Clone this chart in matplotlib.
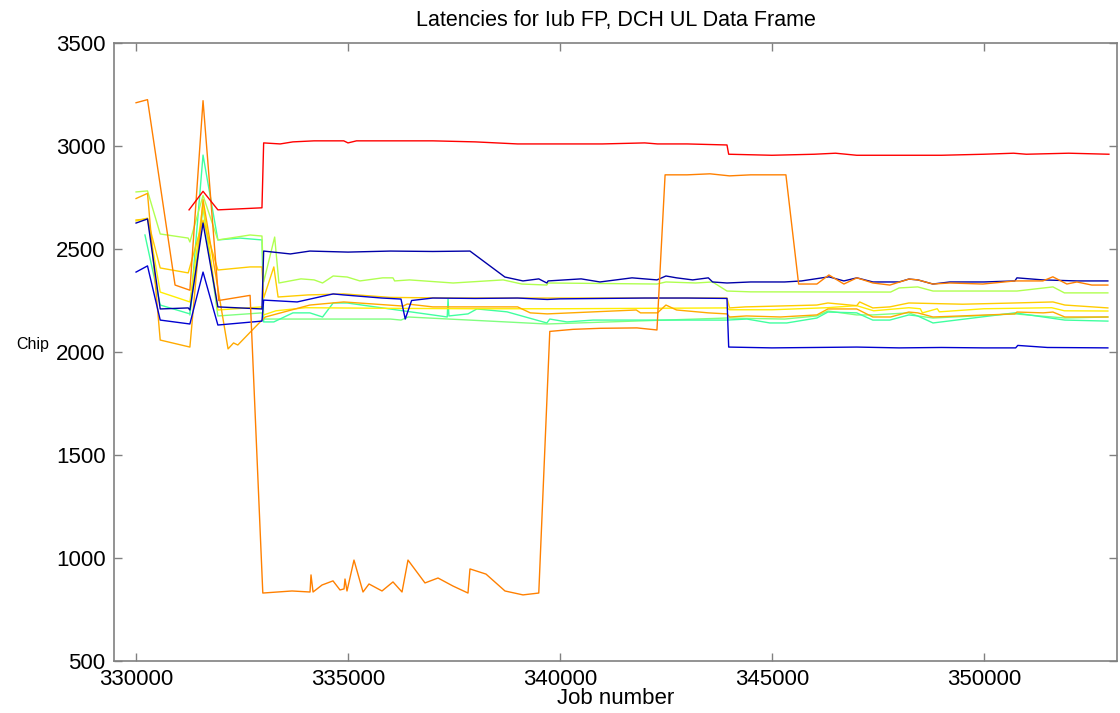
import matplotlib
matplotlib.use("Agg")
from matplotlib import pyplot as plt

#==============================================================#
# data (job number, chip) per series
#==============================================================#
red_job = [331250, 331580, 331930, 332970, 333010, 333400, 333700, 334200, 334900,
           335000, 335200, 336000, 337000, 338000, 339000, 340000, 341000, 342000,
           342300, 343000, 343940, 343980, 345000, 346000, 346500, 347000, 348000,
           349000, 350000, 350700, 351000, 352000, 352950]
red_chip = [2690, 2780, 2690, 2700, 3015, 3010, 3020, 3025, 3025,
            3015, 3025, 3025, 3025, 3020, 3010, 3010, 3010, 3015,
            3010, 3010, 3005, 2960, 2955, 2960, 2965, 2955, 2955,
            2955, 2960, 2965, 2960, 2965, 2960]

dorange_job = [330000, 330270, 330920, 331270, 331580, 331950, 332690, 332990, 333679,
               334104, 334127, 334175, 334387, 334646, 334811, 334906, 334929, 334976,
               335141, 335354, 335495, 335802, 336061, 336274, 336415, 336816, 337123,
               337476, 337830, 337877, 338255, 338703, 339127, 339500, 339760, 340307,
               340943, 341816, 342288, 342480, 343000, 343540, 344000, 344500, 345330,
               345630, 346061, 346344, 346698, 347005, 347382, 347783, 348231, 348443,
               348797, 349198, 349976, 350731, 351391, 351627, 351958, 352194, 352547,
               352925]
dorange_chip = [3210, 3225, 2325, 2300, 3220, 2250, 2275, 830, 840,
                835, 918, 835, 869, 889, 845, 850, 898, 840,
                990, 835, 874, 840, 884, 835, 990, 879, 903,
                864, 830, 947, 922, 840, 821, 830, 2100, 2110,
                2115, 2117, 2107, 2860, 2860, 2865, 2855, 2860, 2860,
                2330, 2330, 2374, 2330, 2360, 2335, 2325, 2354, 2350,
                2330, 2335, 2330, 2345, 2345, 2365, 2330, 2340, 2325,
                2325]

lorange_job = [330000, 330270, 330570, 331270, 331580, 332170, 332300, 332400, 332970,
               333050, 334100, 334900, 336300, 336400, 337000, 339000, 339300, 339700,
               341800, 341900, 342300, 342500, 342750, 343500, 343940, 344000, 344400,
               345200, 346060, 346320, 347000, 347380, 347800, 348230, 348440, 348800,
               350730, 350780, 351400, 351630, 351910, 352925]
lorange_chip = [2745, 2770, 2058, 2024, 2740, 2015, 2044, 2034, 2155,
                2170, 2228, 2243, 2223, 2233, 2219, 2219, 2190, 2185,
                2204, 2190, 2190, 2228, 2204, 2190, 2185, 2170, 2175,
                2170, 2180, 2209, 2209, 2170, 2170, 2194, 2190, 2170,
                2185, 2194, 2190, 2194, 2170, 2170]

gold_job = [330000, 330270, 330570, 331230, 331580, 331930, 332690, 332970, 333010,
            333250, 333350, 334050, 334900, 336000, 337500, 339000, 341000, 343940,
            344000, 344370, 346060, 346320, 347000, 347070, 347380, 347780, 348230,
            349500, 350730, 351630, 351910, 352925]
gold_chip = [2641, 2646, 2408, 2384, 2640, 2398, 2413, 2413, 2262,
             2413, 2267, 2277, 2282, 2265, 2262, 2262, 2262, 2262,
             2214, 2219, 2228, 2238, 2225, 2243, 2214, 2219, 2238,
             2232, 2238, 2243, 2228, 2214]

yellow_job = [330000, 330270, 330570, 331270, 331580, 331930, 332970, 333010, 333300,
              334000, 336000, 338000, 340000, 342000, 343940, 344000, 345000, 346300,
              347000, 347400, 348230, 348500, 348550, 348900, 348950, 350000, 351600,
              351900, 352925]
yellow_chip = [2636, 2650, 2291, 2243, 2720, 2204, 2219, 2180, 2200,
               2215, 2212, 2210, 2210, 2212, 2214, 2205, 2205, 2215,
               2225, 2200, 2215, 2210, 2190, 2210, 2195, 2210, 2215,
               2200, 2199]

ygreen_job = [330000, 330270, 330570, 331230, 331270, 331580, 331930, 332690, 332970,
              333010, 333270, 333370, 333890, 334200, 334400, 334650, 334980, 335280,
              335820, 336060, 336100, 336450, 337480, 338660, 339100, 339690, 339720,
              342288, 342500, 343200, 343600, 343940, 344500, 347800, 348000, 348440,
              348800, 350780, 351630, 351900, 352925]
ygreen_chip = [2777, 2782, 2573, 2553, 2534, 2760, 2544, 2568, 2563,
               2340, 2558, 2335, 2355, 2350, 2335, 2369, 2364, 2345,
               2360, 2360, 2345, 2350, 2335, 2350, 2330, 2325, 2335,
               2330, 2340, 2335, 2340, 2296, 2292, 2291, 2311, 2316,
               2296, 2296, 2316, 2287, 2287]

aqua_job = [330210, 330570, 331270, 331580, 331930, 332450, 332970, 333010, 333250,
            333700, 334100, 334400, 334650, 334980, 336160, 337170, 337340, 337360,
            337380, 337830, 338040, 338750, 339690, 339760, 340165, 340780, 343940,
            344410, 344950, 345350, 346060, 346320, 347000, 347380, 347780, 348230,
            348440, 348800, 350730, 351910, 352925]
aqua_chip = [2568, 2228, 2185, 2956, 2544, 2553, 2544, 2146, 2146,
             2190, 2190, 2170, 2238, 2238, 2204, 2175, 2170, 2258,
             2175, 2185, 2209, 2195, 2141, 2160, 2146, 2155, 2155,
             2160, 2141, 2141, 2165, 2194, 2190, 2155, 2155, 2180,
             2175, 2141, 2190, 2155, 2150]

lgreen_job = [331270, 331580, 331930, 332970, 333010, 336000, 336250, 336420, 339690,
              343940, 345300, 346060, 346320, 347000, 347380, 348230, 348440, 348800,
              350730, 351910, 352925]
lgreen_chip = [2180, 2700, 2175, 2190, 2160, 2160, 2155, 2170, 2136,
               2165, 2160, 2175, 2199, 2180, 2180, 2190, 2175, 2165,
               2185, 2165, 2170]

navy_job = [330000, 330270, 330570, 331230, 331270, 331580, 331930, 332970, 333010,
            333640, 334100, 335000, 336000, 337000, 337877, 338700, 339127, 339500,
            339690, 339720, 340500, 340943, 341700, 342288, 342500, 342750, 343130,
            343500, 343600, 343940, 344500, 345300, 345700, 346344, 346698, 347005,
            347382, 348000, 348231, 348443, 348797, 349198, 350000, 350731, 350780,
            351391, 352200, 352925]
navy_chip = [2626, 2646, 2209, 2214, 2204, 2626, 2219, 2209, 2490,
             2476, 2490, 2485, 2490, 2488, 2490, 2364, 2345, 2355,
             2335, 2345, 2355, 2340, 2360, 2350, 2369, 2360, 2350,
             2360, 2340, 2335, 2340, 2340, 2345, 2365, 2345, 2360,
             2340, 2340, 2354, 2350, 2330, 2340, 2340, 2345, 2360,
             2350, 2345, 2345]

blue_job = [330000, 330270, 330570, 331270, 331580, 331930, 332970, 333010, 333800,
            334650, 334900, 335800, 336250, 336350, 336500, 337000, 338000, 339000,
            339700, 340000, 341000, 342000, 343000, 343940, 343980, 345000, 346000,
            347000, 348000, 349000, 350000, 350750, 350800, 351500, 352925]
blue_chip = [2388, 2418, 2155, 2136, 2388, 2131, 2150, 2252, 2243,
             2282, 2277, 2262, 2257, 2160, 2250, 2262, 2260, 2262,
             2255, 2258, 2260, 2262, 2262, 2260, 2024, 2020, 2022,
             2024, 2020, 2022, 2020, 2020, 2032, 2022, 2020]

#==============================================================#
if __name__ == '__main__':
    plt.rcParams['font.family'] = ['Liberation Sans', 'DejaVu Sans']

    fig = plt.figure(figsize=(11.2, 7.13), dpi=100)
    ax = fig.add_axes([0.1018, 0.0729, 0.8955, 0.8668])

    series = [
        (lgreen_job, lgreen_chip, '#80ff80'),
        (aqua_job, aqua_chip, '#40ffa0'),
        (ygreen_job, ygreen_chip, '#b0ff50'),
        (yellow_job, yellow_chip, '#ffee00'),
        (gold_job, gold_chip, '#ffcc00'),
        (lorange_job, lorange_chip, '#ffaa00'),
        (blue_job, blue_chip, '#0000d0'),
        (navy_job, navy_chip, '#0000a8'),
        (dorange_job, dorange_chip, '#ff8000'),
        (red_job, red_chip, '#ff0000'),
    ]
    for job, chip, col in series:
        ax.plot(job, chip, color=col, lw=1.0)

    ax.set_xlim(329480, 353140)
    ax.set_ylim(500, 3500)
    ax.set_xticks([330000, 335000, 340000, 345000, 350000])
    ax.set_yticks([500, 1000, 1500, 2000, 2500, 3000, 3500])

    for sp in ax.spines.values():
        sp.set_color('#808080')
        sp.set_linewidth(1.2)
    ax.tick_params(direction='in', length=6, width=1, color='#808080',
                   top=True, right=True, labelsize=16, pad=6)

    ax.set_title("Latencies for Iub FP, DCH UL Data Frame", fontsize=15.5, pad=12)
    ax.set_xlabel("Job number", fontsize=16, labelpad=-2)
    ax.set_ylabel("Chip", fontsize=11.5, rotation=0, labelpad=0)
    ax.yaxis.set_label_coords(-0.081, 0.5)

    fig.savefig("out.png", dpi=100)
